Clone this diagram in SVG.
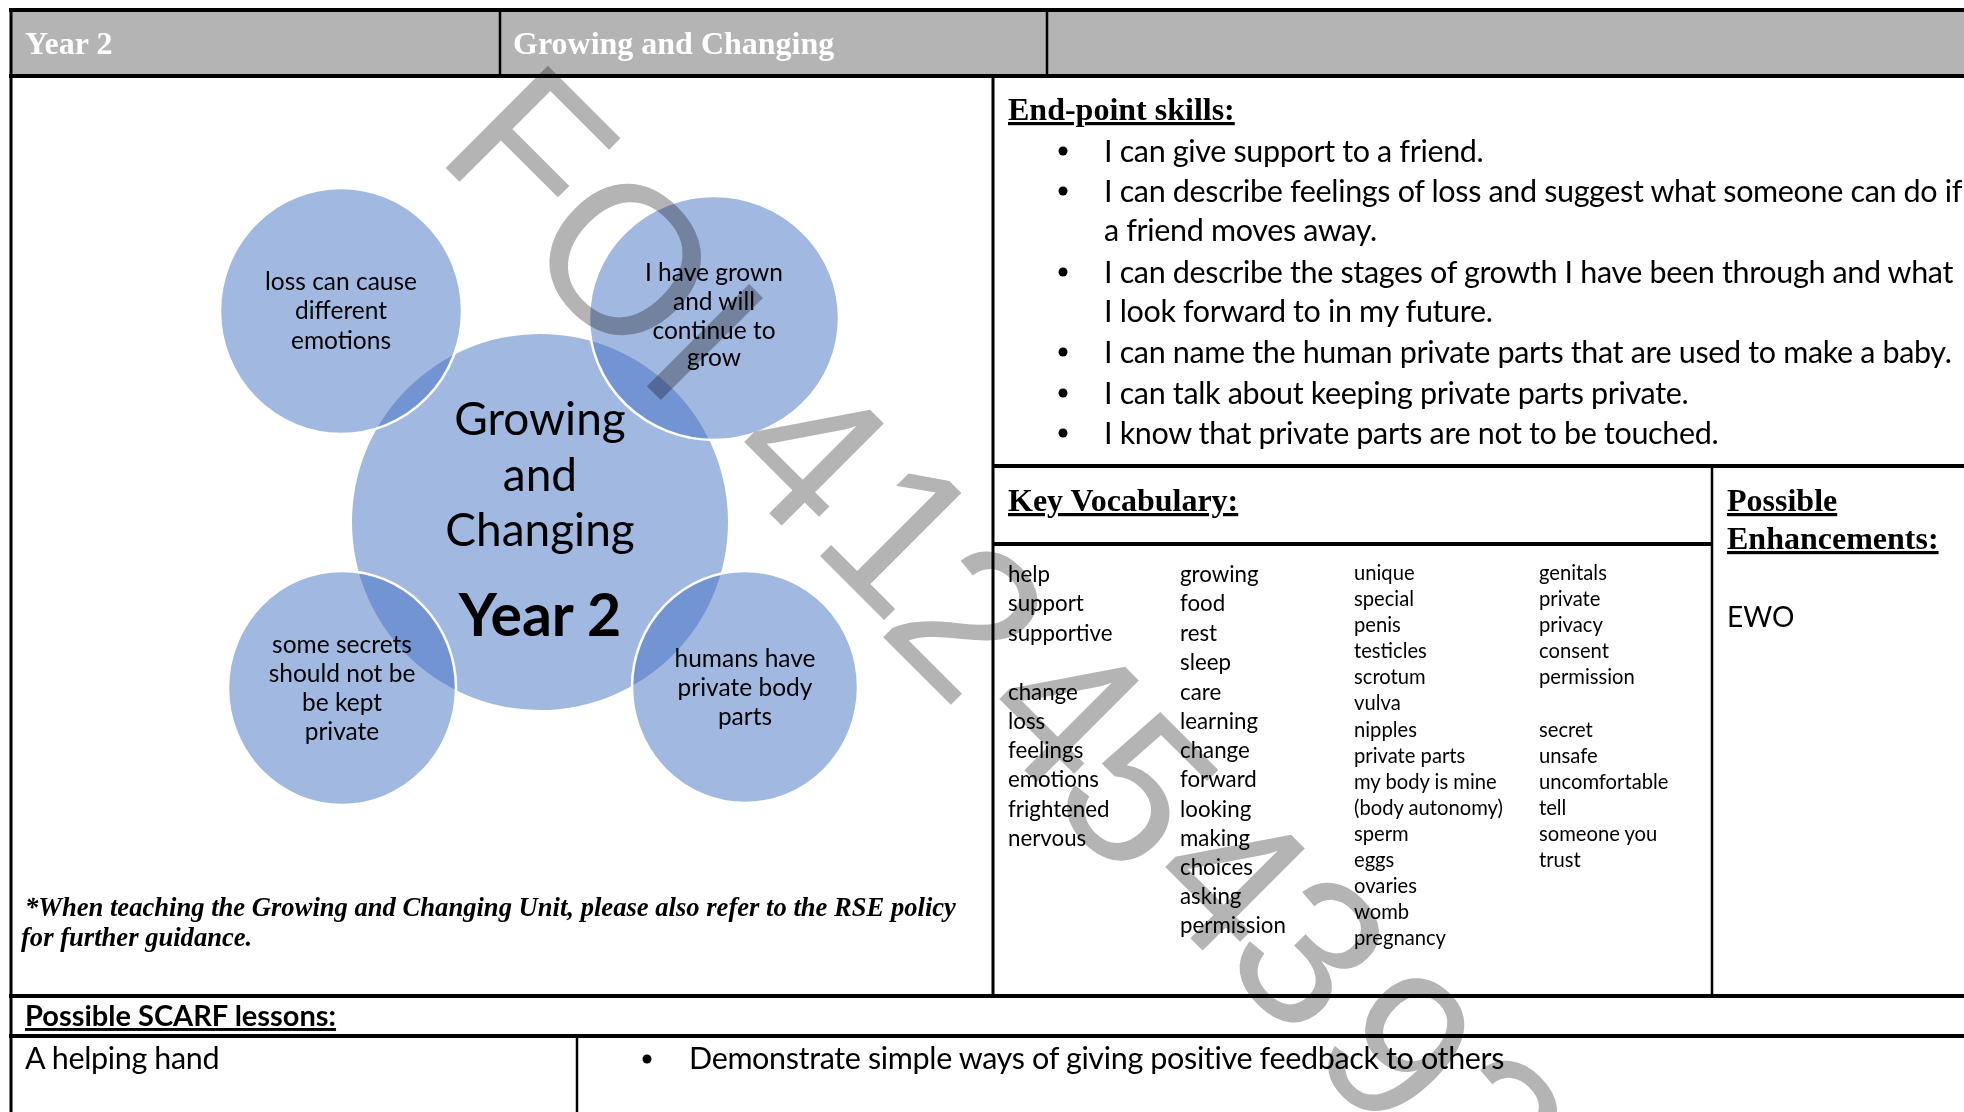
<svg xmlns="http://www.w3.org/2000/svg" width="1964" height="1112" viewBox="0 0 1964 1112">
<style>
.hd{font-family:"Liberation Serif",serif;font-weight:bold;font-size:32px;fill:#fff}
.h{font-family:"Liberation Serif",serif;font-weight:bold;font-size:32px;fill:#000;text-decoration:underline}
.b{font-family:Lato,"Liberation Sans",sans-serif;font-size:30.5px;letter-spacing:-0.35px;fill:#000}
.hb{font-family:Lato,"Liberation Sans",sans-serif;font-size:29px;font-weight:bold;fill:#000;text-decoration:underline}
.v1{font-family:Lato,"Liberation Sans",sans-serif;font-size:22.3px;fill:#000}
.v2{font-family:Lato,"Liberation Sans",sans-serif;font-size:20.2px;fill:#000}
.fn{font-family:"Liberation Serif",serif;font-weight:bold;font-style:italic;font-size:26.6px;fill:#000}
.c{fill:#4472c4;fill-opacity:0.5}
.sat{stroke:#fff;stroke-width:2.5}
.ct{font-family:Lato,"Liberation Sans",sans-serif;font-size:24.5px;text-anchor:middle;fill:#000}
.cc{font-family:Lato,"Liberation Sans",sans-serif;font-size:46px;text-anchor:middle;fill:#000}
.cy{font-family:Lato,"Liberation Sans",sans-serif;font-size:59px;font-weight:bold;text-anchor:middle;fill:#000}
.wm{font-family:"Liberation Sans",sans-serif;font-size:210px;fill:#b4b4b4;text-anchor:middle}
.ln{stroke:#000;fill:none}
</style>

<g id="table">
  <rect x="11" y="12" width="1953" height="63" fill="#b4b4b4"/>
  <line class="ln" x1="9" y1="10" x2="1964" y2="10" stroke-width="4"/>
  <line class="ln" x1="9" y1="76" x2="1964" y2="76" stroke-width="4"/>
  <line class="ln" x1="500" y1="10" x2="500" y2="76" stroke-width="2.5"/>
  <line class="ln" x1="1047" y1="10" x2="1047" y2="76" stroke-width="2.5"/>
  <line class="ln" x1="11" y1="8" x2="11" y2="1112" stroke-width="3"/>
  <line class="ln" x1="993" y1="76" x2="993" y2="996" stroke-width="3"/>
  <line class="ln" x1="993" y1="466" x2="1964" y2="466" stroke-width="4"/>
  <line class="ln" x1="993" y1="544" x2="1712" y2="544" stroke-width="4"/>
  <line class="ln" x1="1712" y1="466" x2="1712" y2="996" stroke-width="2.5"/>
  <line class="ln" x1="9" y1="996" x2="1964" y2="996" stroke-width="4"/>
  <line class="ln" x1="9" y1="1036" x2="1964" y2="1036" stroke-width="4"/>
  <line class="ln" x1="577" y1="1036" x2="577" y2="1112" stroke-width="2.5"/>
</g>

<g id="header">
  <text class="hd" x="25" y="54">Year 2</text>
  <text class="hd" x="513" y="54">Growing and Changing</text>
</g>

<g id="diagram">
  <g id="node-center">
    <circle class="c" cx="540" cy="522" r="188"/>
  </g>
  <g id="node-loss">
    <ellipse class="c sat" cx="341" cy="311" rx="121" ry="123"/>
    <text class="ct" x="341" y="290">loss can cause</text>
    <text class="ct" x="341" y="319">different</text>
    <text class="ct" x="341" y="349">emotions</text>
  </g>
  <g id="node-grown">
    <ellipse class="c sat" cx="714" cy="318" rx="125" ry="122"/>
    <text class="ct" x="714" y="281">I have grown</text>
    <text class="ct" x="714" y="310">and will</text>
    <text class="ct" x="714" y="339">continue to</text>
    <text class="ct" x="714" y="366">grow</text>
  </g>
  <g id="node-secrets">
    <ellipse class="c sat" cx="342" cy="688" rx="114" ry="117"/>
    <text class="ct" x="342" y="653">some secrets</text>
    <text class="ct" x="342" y="682">should not be</text>
    <text class="ct" x="342" y="711">be kept</text>
    <text class="ct" x="342" y="740">private</text>
  </g>
  <g id="node-body">
    <ellipse class="c sat" cx="745" cy="687" rx="113" ry="116"/>
    <text class="ct" x="745" y="667">humans have</text>
    <text class="ct" x="745" y="696">private body</text>
    <text class="ct" x="745" y="725">parts</text>
  </g>
  <g id="node-center-text">
    <text class="cc" x="540" y="435">Growing</text>
    <text class="cc" x="540" y="491">and</text>
    <text class="cc" x="540" y="546">Changing</text>
    <text class="cy" x="540" y="636">Year 2</text>
  </g>
</g>

<g id="footnote">
  <text class="fn" x="25" y="916">*When teaching the Growing and Changing Unit, please also refer to the RSE policy</text>
  <text class="fn" x="21" y="946">for further guidance.</text>
</g>

<g id="skills">
  <text class="h" x="1008" y="120">End-point skills:</text>
  <g fill="#000">
    <circle cx="1063" cy="151" r="4.5"/>
    <circle cx="1063" cy="191" r="4.5"/>
    <circle cx="1063" cy="272" r="4.5"/>
    <circle cx="1063" cy="352" r="4.5"/>
    <circle cx="1063" cy="393" r="4.5"/>
    <circle cx="1063" cy="433" r="4.5"/>
  </g>
  <text class="b" x="1104" y="162">I can give support to a friend.</text>
  <text class="b" x="1104" y="202">I can describe feelings of loss and suggest what someone can do if</text>
  <text class="b" x="1104" y="241">a friend moves away.</text>
  <text class="b" x="1104" y="283">I can describe the stages of growth I have been through and what</text>
  <text class="b" x="1104" y="322">I look forward to in my future.</text>
  <text class="b" x="1104" y="363">I can name the human private parts that are used to make a baby.</text>
  <text class="b" x="1104" y="404">I can talk about keeping private parts private.</text>
  <text class="b" x="1104" y="444">I know that private parts are not to be touched.</text>
</g>

<g id="vocab">
  <text class="h" x="1008" y="511">Key Vocabulary:</text>
  <text class="v1" x="1008" y="582">help</text>
  <text class="v1" x="1008" y="611">support</text>
  <text class="v1" x="1008" y="641">supportive</text>
  <text class="v1" x="1008" y="700">change</text>
  <text class="v1" x="1008" y="729">loss</text>
  <text class="v1" x="1008" y="758">feelings</text>
  <text class="v1" x="1008" y="787">emotions</text>
  <text class="v1" x="1008" y="817">frightened</text>
  <text class="v1" x="1008" y="846">nervous</text>

  <text class="v1" x="1180" y="582">growing</text>
  <text class="v1" x="1180" y="611">food</text>
  <text class="v1" x="1180" y="641">rest</text>
  <text class="v1" x="1180" y="670">sleep</text>
  <text class="v1" x="1180" y="700">care</text>
  <text class="v1" x="1180" y="729">learning</text>
  <text class="v1" x="1180" y="758">change</text>
  <text class="v1" x="1180" y="787">forward</text>
  <text class="v1" x="1180" y="817">looking</text>
  <text class="v1" x="1180" y="846">making</text>
  <text class="v1" x="1180" y="875">choices</text>
  <text class="v1" x="1180" y="904">asking</text>
  <text class="v1" x="1180" y="933">permission</text>

  <text class="v2" x="1354" y="580">unique</text>
  <text class="v2" x="1354" y="606">special</text>
  <text class="v2" x="1354" y="632">penis</text>
  <text class="v2" x="1354" y="658">testicles</text>
  <text class="v2" x="1354" y="684">scrotum</text>
  <text class="v2" x="1354" y="710">vulva</text>
  <text class="v2" x="1354" y="737">nipples</text>
  <text class="v2" x="1354" y="763">private parts</text>
  <text class="v2" x="1354" y="789">my body is mine</text>
  <text class="v2" x="1354" y="815">(body autonomy)</text>
  <text class="v2" x="1354" y="841">sperm</text>
  <text class="v2" x="1354" y="867">eggs</text>
  <text class="v2" x="1354" y="893">ovaries</text>
  <text class="v2" x="1354" y="919">womb</text>
  <text class="v2" x="1354" y="945">pregnancy</text>

  <text class="v2" x="1539" y="580">genitals</text>
  <text class="v2" x="1539" y="606">private</text>
  <text class="v2" x="1539" y="632">privacy</text>
  <text class="v2" x="1539" y="658">consent</text>
  <text class="v2" x="1539" y="684">permission</text>
  <text class="v2" x="1539" y="737">secret</text>
  <text class="v2" x="1539" y="763">unsafe</text>
  <text class="v2" x="1539" y="789">uncomfortable</text>
  <text class="v2" x="1539" y="815">tell</text>
  <text class="v2" x="1539" y="841">someone you</text>
  <text class="v2" x="1539" y="867">trust</text>
</g>

<g id="enhancements">
  <text class="h" x="1727" y="511">Possible</text>
  <text class="h" x="1727" y="549">Enhancements:</text>
  <text class="b" x="1727" y="627" style="font-size:28px;letter-spacing:0">EWO</text>
</g>

<g id="scarf">
  <text class="hb" x="25" y="1026">Possible SCARF lessons:</text>
  <text class="b" x="25" y="1069">A helping hand</text>
  <circle cx="647" cy="1059" r="4.5" fill="#000"/>
  <text class="b" x="689" y="1069">Demonstrate simple ways of giving positive feedback to others</text>
</g>

<g id="watermark" style="mix-blend-mode:multiply">
  <text class="wm" transform="translate(532,148) rotate(45)" y="75">F</text>
  <text class="wm" transform="translate(627,258) rotate(45)" y="75">O</text>
  <text class="wm" transform="translate(707,340) rotate(45)" y="75">I</text>
  <text class="wm" transform="translate(812,450) rotate(45)" y="75">4</text>
  <text class="wm" transform="translate(903,533) rotate(45)" y="75">1</text>
  <text class="wm" transform="translate(970,618) rotate(45)" y="75">2</text>
  <text class="wm" transform="translate(1067,707) rotate(45)" y="75">4</text>
  <text class="wm" transform="translate(1140,790) rotate(45)" y="75">5</text>
  <text class="wm" transform="translate(1233,875) rotate(45)" y="75">4</text>
  <text class="wm" transform="translate(1312,950) rotate(45)" y="75">3</text>
  <text class="wm" transform="translate(1400,1045) rotate(45)" y="75">9</text>
  <text class="wm" transform="translate(1490,1128) rotate(45)" y="75">3</text>
</g>
</svg>
